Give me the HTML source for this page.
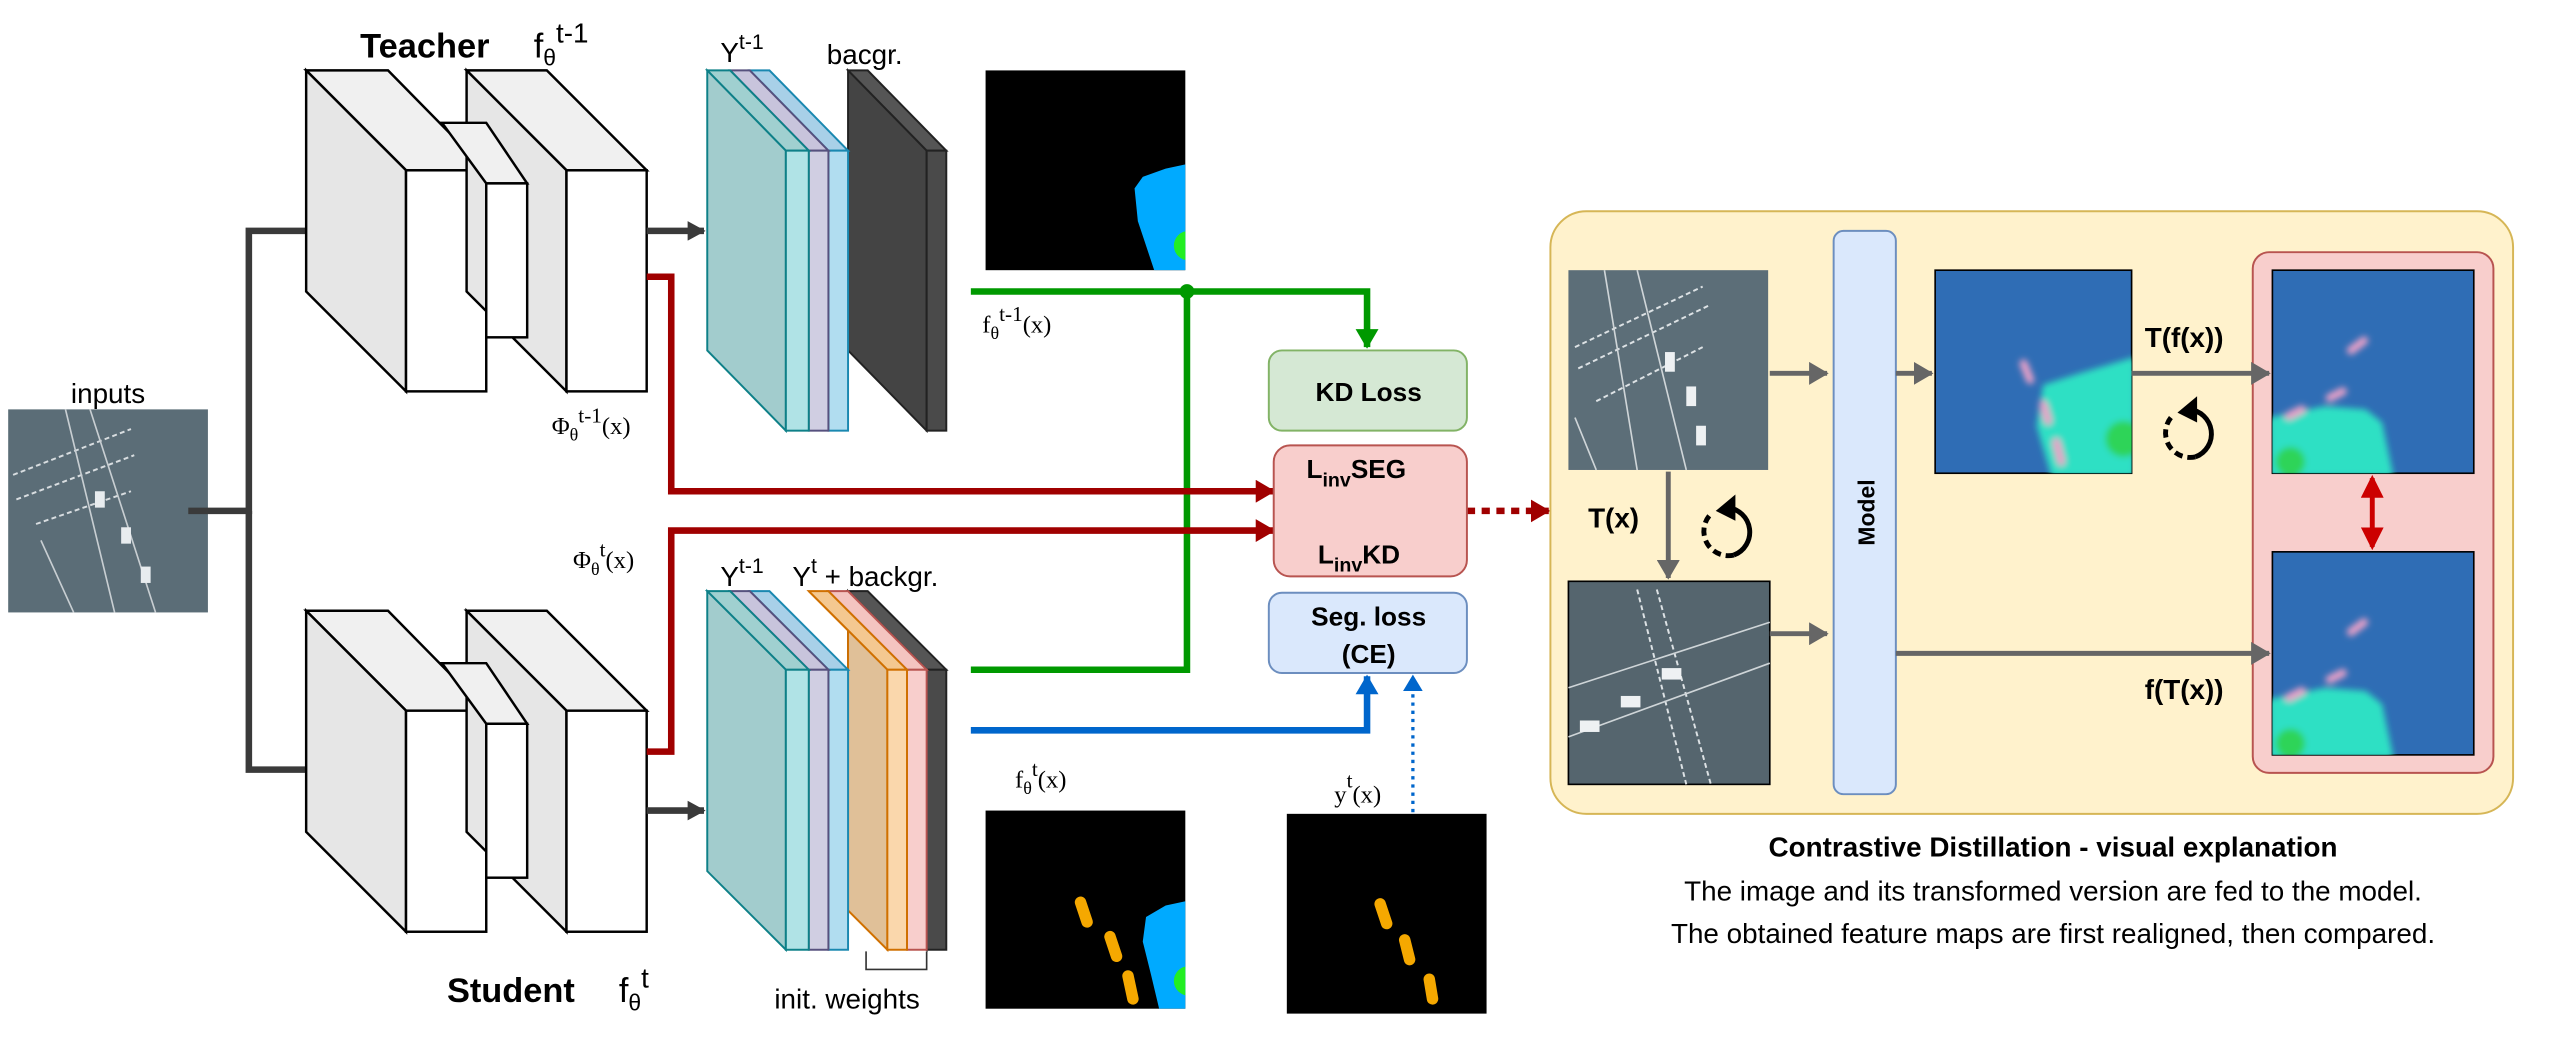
<!DOCTYPE html>
<html><head><meta charset="utf-8"><style>
html,body{margin:0;padding:0;background:#fff;}
svg{display:block;}
text{font-family:"Liberation Sans",sans-serif;}
.ser{font-family:"Liberation Serif",serif;}
</style></head><body>
<svg width="2554" height="1048" viewBox="0 0 1560 640" preserveAspectRatio="none" xmlns="http://www.w3.org/2000/svg">
<defs>
<filter id="bl" x="-20%" y="-20%" width="140%" height="140%"><feGaussianBlur stdDeviation="2"/></filter>
<clipPath id="c1"><rect x="602" y="43" width="122" height="122"/></clipPath>
<clipPath id="c2"><rect x="602" y="495" width="122" height="121"/></clipPath>
<clipPath id="c3"><rect x="1182" y="165" width="120" height="124"/></clipPath>
<clipPath id="c4"><rect x="1388" y="165" width="123" height="124"/></clipPath>
<marker id="ar" markerWidth="12" markerHeight="14" refX="11" refY="7" orient="auto" markerUnits="userSpaceOnUse"><path d="M0,0 L12,7 L0,14 Z" fill="#a00000"/></marker>
<marker id="ag" markerWidth="12" markerHeight="14" refX="11" refY="7" orient="auto" markerUnits="userSpaceOnUse"><path d="M0,0 L12,7 L0,14 Z" fill="#009900"/></marker>
<marker id="ab" markerWidth="12" markerHeight="14" refX="11" refY="7" orient="auto" markerUnits="userSpaceOnUse"><path d="M0,0 L12,7 L0,14 Z" fill="#0066cc"/></marker>
<marker id="ay" markerWidth="12" markerHeight="14" refX="11" refY="7" orient="auto" markerUnits="userSpaceOnUse"><path d="M0,0 L12,7 L0,14 Z" fill="#666"/></marker>
<marker id="ak" markerWidth="11" markerHeight="12" refX="10" refY="6" orient="auto" markerUnits="userSpaceOnUse"><path d="M0,0 L11,6 L0,12 Z" fill="#3a3a3a"/></marker>
<marker id="arr" markerWidth="14" markerHeight="14" refX="12" refY="7" orient="auto" markerUnits="userSpaceOnUse"><path d="M0,0 L14,7 L0,14 Z" fill="#cc0000"/></marker>
<marker id="arl" markerWidth="14" markerHeight="14" refX="2" refY="7" orient="auto" markerUnits="userSpaceOnUse"><path d="M14,0 L0,7 L14,14 Z" fill="#cc0000"/></marker>
<marker id="abd" markerWidth="10" markerHeight="12" refX="9" refY="6" orient="auto" markerUnits="userSpaceOnUse"><path d="M0,0 L10,6 L0,12 Z" fill="#0066cc"/></marker>
<marker id="ard" markerWidth="12" markerHeight="14" refX="11" refY="7" orient="auto" markerUnits="userSpaceOnUse"><path d="M0,0 L12,7 L0,14 Z" fill="#a00000"/></marker>
</defs>

<!-- inputs -->
<text x="66" y="246" font-size="17" text-anchor="middle">inputs</text>
<rect x="5" y="250" width="122" height="124" fill="#5b6d77"/>
<g stroke="#d8dde0" stroke-width="1.2" stroke-dasharray="3,2" fill="none"><path d="M8,290 L80,262 M10,305 L82,278 M22,320 L80,300"/></g>
<g stroke="#c8ced2" stroke-width="1" fill="none"><path d="M40,250 L70,374 M55,250 L95,374 M25,330 L45,374"/></g>
<g fill="#e8ecef"><rect x="58" y="300" width="6" height="10"/><rect x="74" y="322" width="6" height="10"/><rect x="86" y="346" width="6" height="10"/></g>

<path d="M115,312 H152 V141 H210" fill="none" stroke="#3a3a3a" stroke-width="4" marker-end="url(#ak)"/>
<path d="M152,312 V470 H210" fill="none" stroke="#3a3a3a" stroke-width="4" marker-end="url(#ak)"/>

<!-- blocks -->
<g stroke="#000" stroke-width="1.5">
<g id="blk">
 <polygon points="187,43 237,43 297,104 248,104" fill="#f0f0f0"/>
 <polygon points="187,43 248,104 248,239 187,178" fill="#e6e6e6"/>
 <rect x="248" y="104" width="49" height="135" fill="#fff"/>
 <polygon points="285,43 334,43 395,104 346,104" fill="#f0f0f0"/>
 <polygon points="285,43 346,104 346,239 285,178" fill="#e6e6e6"/>
 <rect x="346" y="104" width="49" height="135" fill="#fff"/>
 <polygon points="270,75 297,75 322,112 297,112" fill="#f0f0f0"/>
 <rect x="297" y="112" width="25" height="94" fill="#fff"/>
</g>
<use href="#blk" transform="translate(0,330)"/>
</g>
<path d="M395,141 H430" stroke="#3a3a3a" stroke-width="4" marker-end="url(#ak)"/>
<path d="M395,495 H430" stroke="#3a3a3a" stroke-width="4" marker-end="url(#ak)"/>

<text x="220" y="35" font-size="21" font-weight="bold">Teacher</text>
<text x="326" y="35" font-size="21">f<tspan font-size="14" dy="5">θ</tspan><tspan font-size="17" dy="-14">t-1</tspan></text>
<text x="273" y="612" font-size="21" font-weight="bold">Student</text>
<text x="378" y="612" font-size="21">f<tspan font-size="14" dy="5">θ</tspan><tspan font-size="17" dy="-14">t</tspan></text>

<!-- teacher stack -->
<g stroke-width="1.2">
 <g stroke="#222"><polygon points="518,43 530,43 578,92 566,92" fill="#555"/><polygon points="518,43 566,92 566,263 518,214" fill="#444"/><rect x="566" y="92" width="12" height="171" fill="#4a4a4a"/></g>
 <g stroke="#1a88b0"><polygon points="458,43 470,43 518,92 506,92" fill="#a8d0e8"/><rect x="506" y="92" width="12" height="171" fill="#b1ddf0"/></g>
 <g stroke="#56517e"><polygon points="446,43 458,43 506,92 494,92" fill="#c8c4dc"/><rect x="494" y="92" width="12" height="171" fill="#d0cee2"/></g>
 <g stroke="#0e8088"><polygon points="432,43 446,43 494,92 480,92" fill="#a0d0d0"/><polygon points="432,43 480,92 480,263 432,214" fill="#a2cccd"/><rect x="480" y="92" width="14" height="171" fill="#b0e3e6"/></g>
</g>
<text x="440" y="38" font-size="17">Y<tspan font-size="13" dy="-8">t-1</tspan></text>
<text x="505" y="39" font-size="17">bacgr.</text>

<!-- student stack -->
<g stroke-width="1.2">
 <g stroke="#222"><polygon points="518,361 530,361 578,409 566,409" fill="#555"/><polygon points="518,361 566,409 566,580 518,532" fill="#444"/><rect x="566" y="409" width="12" height="171" fill="#4a4a4a"/></g>
 <g stroke="#b85450"><polygon points="506,361 518,361 566,409 554,409" fill="#f4c4c0"/><rect x="554" y="409" width="12" height="171" fill="#f8cecc"/></g>
 <g stroke="#d07000"><polygon points="494,361 506,361 554,409 542,409" fill="#f4c890"/><polygon points="494,361 542,409 542,580 518,556 518,385" fill="#e0c098"/><rect x="542" y="409" width="12" height="171" fill="#fad7ac"/></g>
 <g stroke="#1a88b0"><polygon points="458,361 470,361 518,409 506,409" fill="#a8d0e8"/><rect x="506" y="409" width="12" height="171" fill="#b1ddf0"/></g>
 <g stroke="#56517e"><polygon points="446,361 458,361 506,409 494,409" fill="#c8c4dc"/><rect x="494" y="409" width="12" height="171" fill="#d0cee2"/></g>
 <g stroke="#0e8088"><polygon points="432,361 446,361 494,409 480,409" fill="#a0d0d0"/><polygon points="432,361 480,409 480,580 432,532" fill="#a2cccd"/><rect x="480" y="409" width="14" height="171" fill="#b0e3e6"/></g>
</g>
<text x="440" y="358" font-size="17">Y<tspan font-size="13" dy="-8">t-1</tspan></text>
<text x="484" y="358" font-size="17">Y<tspan font-size="13" dy="-8">t</tspan><tspan dy="8"> + backgr.</tspan></text>
<path d="M529,581 V592 H566 V581" fill="none" stroke="#333" stroke-width="1"/>
<text x="473" y="616" font-size="17">init. weights</text>

<text x="337" y="265" font-size="15" class="ser">Φ<tspan font-size="11" dy="4">θ</tspan><tspan font-size="13" dy="-11">t-1</tspan><tspan font-size="15" dy="7">(x)</tspan></text>
<text x="350" y="347" font-size="15" class="ser">Φ<tspan font-size="11" dy="4">θ</tspan><tspan font-size="13" dy="-11">t</tspan><tspan font-size="15" dy="7">(x)</tspan></text>

<!-- seg maps -->
<rect x="602" y="43" width="122" height="122" fill="#000"/>
<g clip-path="url(#c1)">
<path d="M726,100 L712,103 L698,108 L693,115 L695,135 L700,150 L705,165 L726,165 Z" fill="#00aaff"/>
<circle cx="726" cy="150" r="9" fill="#22ee22"/>
</g>
<text x="600" y="203" font-size="15" class="ser">f<tspan font-size="11" dy="4">θ</tspan><tspan font-size="13" dy="-11">t-1</tspan><tspan font-size="15" dy="7">(x)</tspan></text>

<rect x="602" y="495" width="122" height="121" fill="#000"/>
<g clip-path="url(#c2)">
<path d="M726,550 L712,553 L700,560 L698,575 L703,595 L708,616 L726,616 Z" fill="#00aaff"/>
<circle cx="726" cy="599" r="9" fill="#22ee22"/>
</g>
<g stroke="#f5a800" stroke-width="7" stroke-linecap="round"><path d="M660,551 L664,563 M678,572 L682,584 M689,596 L692,610"/></g>
<text x="620" y="481" font-size="15" class="ser">f<tspan font-size="11" dy="4">θ</tspan><tspan font-size="13" dy="-11">t</tspan><tspan font-size="15" dy="7">(x)</tspan></text>

<rect x="786" y="497" width="122" height="122" fill="#000"/>
<g stroke="#f5a800" stroke-width="7" stroke-linecap="round"><path d="M843,552 L847,564 M858,574 L861,586 M873,598 L875,610"/></g>
<text x="815" y="490" font-size="15" class="ser">y<tspan font-size="13" dy="-9">t</tspan><tspan font-size="15" dy="9">(x)</tspan></text>

<!-- connectors -->
<path d="M593,178 H835 V212" fill="none" stroke="#009900" stroke-width="4" marker-end="url(#ag)"/>
<path d="M593,409 H725 V178" fill="none" stroke="#009900" stroke-width="4"/>
<circle cx="725" cy="178" r="4.5" fill="#009900"/>
<path d="M593,446 H835 V413" fill="none" stroke="#0066cc" stroke-width="4" marker-end="url(#ab)"/>
<path d="M863,496 V413" fill="none" stroke="#0066cc" stroke-width="2" stroke-dasharray="2,3" marker-end="url(#abd)"/>
<path d="M395,169 H410 V300 H778" fill="none" stroke="#a00000" stroke-width="4" marker-end="url(#ar)"/>
<path d="M395,459 H410 V324 H778" fill="none" stroke="#a00000" stroke-width="4" marker-end="url(#ar)"/>
<path d="M896,312 H946" fill="none" stroke="#a00000" stroke-width="4" stroke-dasharray="5,4" marker-end="url(#ard)"/>

<!-- loss boxes -->
<rect x="775" y="214" width="121" height="49" rx="8" fill="#d5e8d4" stroke="#82b366" stroke-width="1.2"/>
<text x="836" y="245" font-size="16" font-weight="bold" text-anchor="middle">KD Loss</text>
<rect x="778" y="272" width="118" height="80" rx="10" fill="#f8cecc" stroke="#b85450" stroke-width="1.2"/>
<text x="798" y="292" font-size="16" font-weight="bold">L<tspan font-size="12" dy="5">inv</tspan><tspan dy="-5">SEG</tspan></text>
<text x="805" y="344" font-size="16" font-weight="bold">L<tspan font-size="12" dy="5">inv</tspan><tspan dy="-5">KD</tspan></text>
<rect x="775" y="362" width="121" height="49" rx="8" fill="#dae8fc" stroke="#6c8ebf" stroke-width="1.2"/>
<text x="836" y="382" font-size="16" font-weight="bold" text-anchor="middle">Seg. loss</text>
<text x="836" y="405" font-size="16" font-weight="bold" text-anchor="middle">(CE)</text>

<!-- contrastive panel -->
<rect x="947" y="129" width="588" height="368" rx="22" fill="#fff2cc" stroke="#d6b656" stroke-width="1.2"/>
<rect x="1376" y="154" width="147" height="318" rx="10" fill="#f8cecc" stroke="#b85450" stroke-width="1.2"/>
<rect x="1120" y="141" width="38" height="344" rx="6" fill="#dae8fc" stroke="#6c8ebf" stroke-width="1.2"/>
<text transform="translate(1145,313) rotate(-90)" font-size="14" font-weight="bold" text-anchor="middle">Model</text>

<g>
<rect x="958" y="165" width="122" height="122" fill="#5c6e78"/>
<g stroke="#dde2e5" stroke-width="1.2" stroke-dasharray="3,2" fill="none"><path d="M962,212 L1040,175 M964,225 L1045,186 M975,245 L1040,212"/></g>
<g stroke="#cfd5d8" stroke-width="1" fill="none"><path d="M980,165 L1000,287 M1000,165 L1030,287 M962,255 L975,287"/></g>
<g fill="#eef1f3"><rect x="1017" y="215" width="6" height="12"/><rect x="1030" y="236" width="6" height="12"/><rect x="1036" y="260" width="6" height="12"/></g>
</g>
<g>
<rect x="958" y="355" width="123" height="124" fill="#55656e" stroke="#000" stroke-width="1"/>
<g stroke="#dde2e5" stroke-width="1.2" stroke-dasharray="3,2" fill="none"><path d="M1000,360 L1030,479 M1012,360 L1045,479"/></g>
<g stroke="#cfd5d8" stroke-width="1" fill="none"><path d="M958,420 L1081,380 M958,450 L1081,405"/></g>
<g fill="#eef1f3"><rect x="1015" y="408" width="12" height="7"/><rect x="990" y="425" width="12" height="7"/><rect x="965" y="440" width="12" height="7"/></g>
</g>

<!-- feature maps -->
<rect x="1182" y="165" width="120" height="124" fill="#2f6db5" stroke="#000" stroke-width="1"/>
<g clip-path="url(#c3)"><g filter="url(#bl)">
<path d="M1304,218 L1270,228 L1248,235 L1244,260 L1253,291 L1304,291 Z" fill="#2de0c4"/>
<circle cx="1297" cy="268" r="11" fill="#2ed458"/>
<g stroke="#e8a0c8" stroke-width="5" stroke-linecap="round"><path d="M1236,222 L1240,232 M1248,247 L1251,257 M1256,270 L1259,282"/></g>
</g></g>
<g id="fmr">
<rect x="1388" y="165" width="123" height="124" fill="#2f6db5" stroke="#000" stroke-width="1"/>
<g clip-path="url(#c4)"><g filter="url(#bl)">
<path d="M1386,255 L1420,248 L1445,250 L1455,258 L1462,291 L1386,291 Z" fill="#2de0c4"/>
<circle cx="1399" cy="282" r="9" fill="#2ed458"/>
<g stroke="#e8a0c8" stroke-width="5" stroke-linecap="round"><path d="M1436,214 L1444,208 M1423,243 L1431,239 M1398,254 L1406,250"/></g>
</g></g>
</g>
<use href="#fmr" transform="translate(0,172)"/>

<g stroke="#666" stroke-width="3" fill="none">
<path d="M1081,228 H1116" marker-end="url(#ay)"/>
<path d="M1081,387 H1116" marker-end="url(#ay)"/>
<path d="M1158,228 H1180" marker-end="url(#ay)"/>
<path d="M1302,228 H1386" marker-end="url(#ay)"/>
<path d="M1158,399 H1386" marker-end="url(#ay)"/>
<path d="M1019,288 V353" marker-end="url(#ay)"/>
</g>
<path d="M1449,292 V334" stroke="#cc0000" stroke-width="3" marker-start="url(#arl)" marker-end="url(#arr)"/>

<text x="1310" y="212" font-size="17" font-weight="bold">T(f(x))</text>
<text x="1310" y="427" font-size="17" font-weight="bold">f(T(x))</text>
<text x="970" y="322" font-size="17" font-weight="bold">T(x)</text>

<!-- rotate icons -->
<g id="rot" fill="none" stroke="#000" stroke-width="3">
<path d="M1337,250 A15,15 0 0,1 1341,279"/>
<path d="M1341,279 A15,15 0 0,1 1326,255" stroke-dasharray="5,3"/>
<polygon points="1330,252 1342,242 1342,258" fill="#000" stroke="none"/>
</g>
<use href="#rot" transform="translate(-282,60)"/>

<text x="1254" y="523" font-size="17" font-weight="bold" text-anchor="middle">Contrastive Distillation - visual explanation</text>
<text x="1254" y="550" font-size="17" text-anchor="middle">The image and its transformed version are fed to the model.</text>
<text x="1254" y="576" font-size="17" text-anchor="middle">The obtained feature maps are first realigned, then compared.</text>
</svg>
</body></html>
